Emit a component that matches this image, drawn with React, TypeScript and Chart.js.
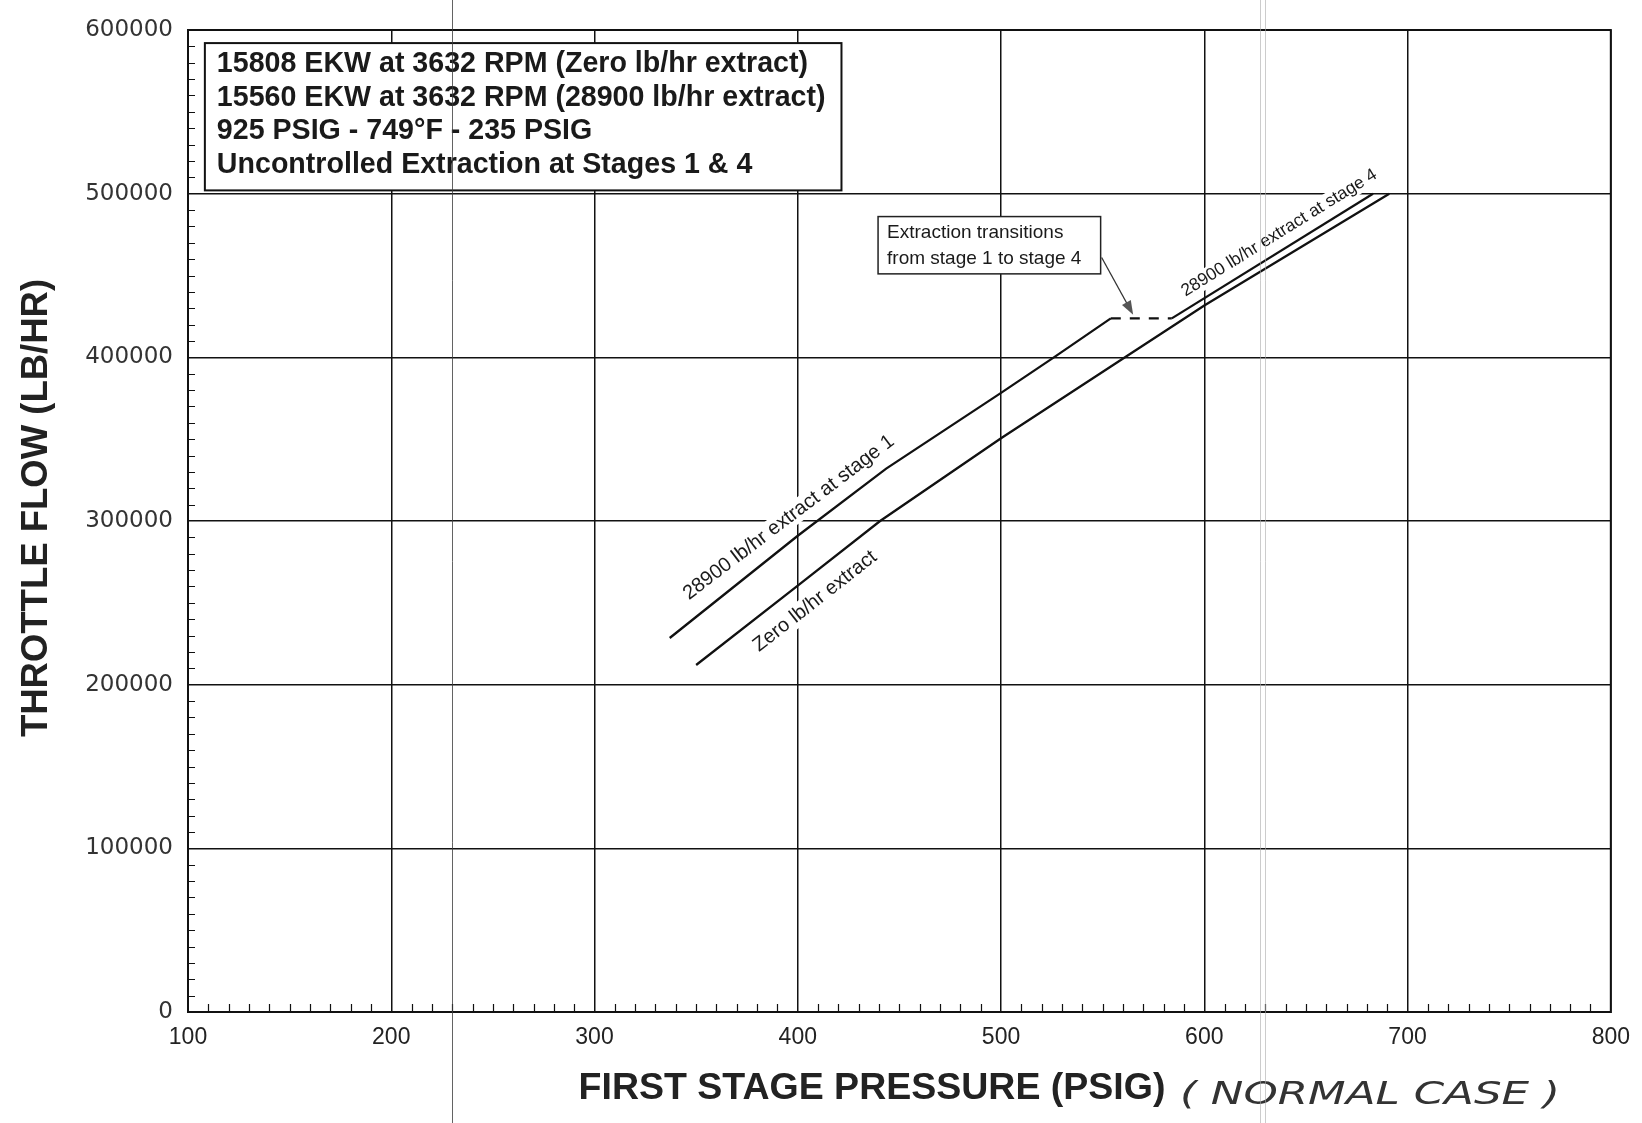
import React, { useEffect, useRef } from "react";
import { Chart, registerables } from "chart.js";

Chart.register(...registerables);

// ---- Data ----
const zeroExtractPressure = [350, 400, 440.5, 500, 561, 600, 691];
const zeroExtractFlow = [212000, 260500, 300000, 350600, 400000, 431700, 500000];

const stagedExtractPressure = [337, 400, 443.5, 500, 526, 554, 584, 683];
const stagedExtractFlow = [228500, 291000, 332000, 378300, 400000, 423800, 423800, 500000];
// index of the segment drawn dashed (stage 1 -> stage 4 transition)
const transitionSegment = 5;

const xTickValues = [100, 200, 300, 400, 500, 600, 700, 800];
const yTickValues = [0, 100000, 200000, 300000, 400000, 500000, 600000];

const infoLines = [
  "15808 EKW at 3632 RPM (Zero lb/hr extract)",
  "15560 EKW at 3632 RPM (28900 lb/hr extract)",
  "925 PSIG - 749°F - 235 PSIG",
  "Uncontrolled Extraction at Stages 1 & 4",
];
const calloutLines = ["Extraction transitions", "from stage 1 to stage 4"];
const curveLabelTexts = [
  "28900 lb/hr extract at stage 1",
  "Zero lb/hr extract",
  "28900 lb/hr extract at stage 4",
];
const curveLabelAtX = [401.5, 401.5, 641];
const xTitle = "FIRST STAGE PRESSURE (PSIG)";
const xNote = "( NORMAL CASE )";
const yTitle = "THROTTLE FLOW (LB/HR)";

function toPoints(xs: number[], ys: number[]) {
  return xs.map((x, i) => ({ x, y: ys[i] }));
}

function locate(xs: number[], ys: number[], xv: number) {
  let i = 0;
  while (i < xs.length - 2 && xv > xs[i + 1]) i++;
  const t = (xv - xs[i]) / (xs[i + 1] - xs[i]);
  return { i, y: ys[i] + t * (ys[i + 1] - ys[i]) };
}

const decor = {
  id: "decor",
  beforeDatasetsDraw(chart: any) {
    const ctx = chart.ctx;
    const xs = chart.scales.x;
    const ys = chart.scales.y;
    const series = [
      [stagedExtractPressure, stagedExtractFlow, -20, 20],
      [zeroExtractPressure, zeroExtractFlow, 23, 20],
      [stagedExtractPressure, stagedExtractFlow, -16, 17.5],
    ] as any[];
    ctx.save();
    curveLabelTexts.forEach((text, k) => {
      const [sx, sy, off, size] = series[k];
      ctx.font = `${size}px "Liberation Sans", Arial, sans-serif`;
      const xv = curveLabelAtX[k];
      const { i, y } = locate(sx, sy, xv);
      const px = xs.getPixelForValue(xv);
      const py = ys.getPixelForValue(y);
      const ang = Math.atan2(
        ys.getPixelForValue(sy[i + 1]) - ys.getPixelForValue(sy[i]),
        xs.getPixelForValue(sx[i + 1]) - xs.getPixelForValue(sx[i])
      );
      ctx.save();
      ctx.translate(px, py);
      ctx.rotate(ang);
      const w = ctx.measureText(text).width;
      ctx.fillStyle = "#fff";
      ctx.fillRect(-w / 2 - 3, off - size / 2 - 1, w + 6, size + 2);
      ctx.fillStyle = "#1a1a1a";
      ctx.textAlign = "center";
      ctx.textBaseline = "middle";
      ctx.fillText(text, 0, off);
      ctx.restore();
    });
    ctx.restore();
  },
  afterDraw(chart: any) {
    const ctx = chart.ctx;
    const a = chart.chartArea;
    const xs = chart.scales.x;
    const ys = chart.scales.y;
    ctx.save();

    // plot border
    ctx.strokeStyle = "#111";
    ctx.lineWidth = 2;
    ctx.strokeRect(a.left, a.top, a.right - a.left, a.bottom - a.top);

    // minor ticks (inward)
    ctx.lineWidth = 1.2;
    ctx.beginPath();
    for (let v = 10000; v < 600000; v += 10000) {
      if (v % 100000 === 0) continue;
      const py = Math.round(ys.getPixelForValue(v)) + 0.5;
      ctx.moveTo(a.left, py);
      ctx.lineTo(a.left + 7, py);
    }
    for (let v = 110; v < 800; v += 10) {
      if (v % 100 === 0) continue;
      const px = Math.round(xs.getPixelForValue(v)) + 0.5;
      ctx.moveTo(px, a.bottom);
      ctx.lineTo(px, a.bottom - 8);
    }
    ctx.stroke();

    // info box
    const bx0 = xs.getPixelForValue(108.3);
    const bx1 = xs.getPixelForValue(421.5);
    const by0 = ys.getPixelForValue(592000);
    const by1 = ys.getPixelForValue(502000);
    ctx.fillStyle = "#fff";
    ctx.fillRect(bx0, by0, bx1 - bx0, by1 - by0);
    ctx.strokeStyle = "#111";
    ctx.lineWidth = 2;
    ctx.strokeRect(bx0, by0, bx1 - bx0, by1 - by0);
    ctx.fillStyle = "#1a1a1a";
    ctx.font = 'bold 28.6px "Liberation Sans", Arial, sans-serif';
    ctx.textAlign = "left";
    ctx.textBaseline = "middle";
    infoLines.forEach((t, k) => ctx.fillText(t, bx0 + 12, by0 + 21 + k * 33.7));

    // callout box
    const cx0 = xs.getPixelForValue(439.5);
    const cx1 = xs.getPixelForValue(549);
    const cy0 = ys.getPixelForValue(486000);
    const cy1 = ys.getPixelForValue(451000);
    ctx.fillStyle = "#fff";
    ctx.fillRect(cx0, cy0, cx1 - cx0, cy1 - cy0);
    ctx.strokeStyle = "#222";
    ctx.lineWidth = 1.5;
    ctx.strokeRect(cx0, cy0, cx1 - cx0, cy1 - cy0);
    ctx.fillStyle = "#1a1a1a";
    ctx.font = '19px "Liberation Sans", Arial, sans-serif';
    calloutLines.forEach((t, k) => ctx.fillText(t, cx0 + 9, cy0 + 16 + k * 26));

    // arrow
    const tx = xs.getPixelForValue(549.5);
    const ty = ys.getPixelForValue(461000);
    const hx = xs.getPixelForValue(565);
    const hy = ys.getPixelForValue(426000);
    const ang = Math.atan2(hy - ty, hx - tx);
    ctx.strokeStyle = "#333";
    ctx.lineWidth = 1.3;
    ctx.beginPath();
    ctx.moveTo(tx, ty);
    ctx.lineTo(hx - 10 * Math.cos(ang), hy - 10 * Math.sin(ang));
    ctx.stroke();
    ctx.fillStyle = "#555";
    ctx.beginPath();
    ctx.moveTo(hx, hy);
    ctx.lineTo(hx - 14 * Math.cos(ang) + 5 * Math.sin(ang), hy - 14 * Math.sin(ang) - 5 * Math.cos(ang));
    ctx.lineTo(hx - 14 * Math.cos(ang) - 5 * Math.sin(ang), hy - 14 * Math.sin(ang) + 5 * Math.cos(ang));
    ctx.closePath();
    ctx.fill();

    // axis titles
    ctx.fillStyle = "#222";
    ctx.font = 'bold 37.5px "Liberation Sans", Arial, sans-serif';
    ctx.textAlign = "center";
    ctx.textBaseline = "middle";
    ctx.fillText(xTitle, 872, 1089);
    ctx.save();
    ctx.translate(37, 508);
    ctx.rotate(-Math.PI / 2);
    ctx.font = 'bold 36.5px "Liberation Sans", Arial, sans-serif';
    ctx.fillText(yTitle, 0, 0);
    ctx.restore();

    // handwritten note
    ctx.save();
    ctx.font = 'italic 30px "DejaVu Sans", sans-serif';
    const nw = ctx.measureText(xNote).width;
    ctx.translate(1180, 1096);
    ctx.scale(380 / nw, 1.05);
    ctx.textAlign = "left";
    ctx.fillStyle = "#333";
    ctx.fillText(xNote, 0, 0);
    ctx.restore();

    // scanner streaks
    ctx.strokeStyle = "rgba(60,60,60,0.8)";
    ctx.lineWidth = 1;
    ctx.beginPath();
    ctx.moveTo(452.5, 0);
    ctx.lineTo(452.5, 1123);
    ctx.stroke();
    ctx.strokeStyle = "rgba(170,170,170,0.6)";
    ctx.beginPath();
    ctx.moveTo(1260.5, 0);
    ctx.lineTo(1260.5, 1123);
    ctx.moveTo(1265.5, 0);
    ctx.lineTo(1265.5, 1123);
    ctx.stroke();

    ctx.restore();
  },
};

export default function App() {
  const ref = useRef<HTMLCanvasElement | null>(null);
  useEffect(() => {
    if (!ref.current) return;
    Chart.defaults.color = "#1a1a1a";
    const chart = new Chart(ref.current, {
      type: "line",
      data: {
        datasets: [
          {
            label: "Zero lb/hr extract",
            data: toPoints(zeroExtractPressure, zeroExtractFlow),
            borderColor: "#111",
            borderWidth: 2.3,
            pointRadius: 0,
            tension: 0,
            fill: false,
          },
          {
            label: "28900 lb/hr extract",
            data: toPoints(stagedExtractPressure, stagedExtractFlow),
            borderColor: "#111",
            borderWidth: 2.3,
            pointRadius: 0,
            tension: 0,
            fill: false,
            segment: {
              borderDash: (c: any) => (c.p0DataIndex === transitionSegment ? [10, 9] : undefined),
            },
          },
        ],
      },
      options: {
        animation: false,
        responsive: false,
        devicePixelRatio: 1,
        layout: { padding: { left: 0, right: 27, top: 30, bottom: 0 } },
        plugins: { legend: { display: false }, tooltip: { enabled: false } },
        scales: {
          x: {
            type: "linear",
            min: 100,
            max: 800,
            afterBuildTicks: (s: any) => {
              s.ticks = xTickValues.map((v) => ({ value: v }));
            },
            afterFit: (s: any) => {
              s.height = 111;
            },
            ticks: {
              padding: 12,
              font: { family: '"Liberation Sans", Arial, sans-serif', size: 23 },
              color: "#222",
              maxRotation: 0,
            },
            grid: { color: "#111", lineWidth: 1.5, drawTicks: false },
            border: { color: "#111", width: 2 },
          },
          y: {
            type: "linear",
            min: 0,
            max: 600000,
            afterBuildTicks: (s: any) => {
              s.ticks = yTickValues.map((v) => ({ value: v }));
            },
            afterFit: (s: any) => {
              s.width = 188;
            },
            ticks: {
              padding: 15,
              font: { family: '"DejaVu Sans", sans-serif', size: 23 },
              color: "#333",
              callback: (v: any) => String(v),
            },
            grid: { color: "#111", lineWidth: 1.5, drawTicks: false },
            border: { color: "#111", width: 2 },
          },
        },
      },
      plugins: [decor],
    } as any);
    return () => chart.destroy();
  }, []);
  return (
    <div style={{ position: "fixed", left: 0, top: 0, width: 1642, height: 1123, background: "#fff" }}>
      <canvas ref={ref} width={1642} height={1123} style={{ display: "block" }} />
    </div>
  );
}
